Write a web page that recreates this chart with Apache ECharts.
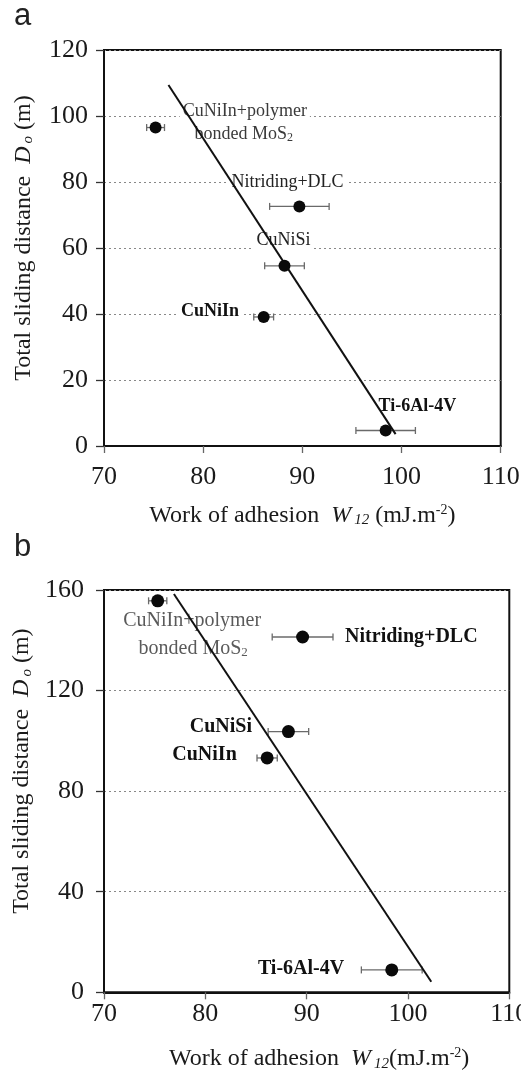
<!DOCTYPE html>
<html><head><meta charset="utf-8">
<script src="https://cdn.jsdelivr.net/npm/echarts@6/dist/echarts.min.js"></script>
<style>html,body{margin:0;padding:0;background:#fff}#c{width:521px;height:1074px}</style>
</head><body><div id="c"></div>
<script>
// ---------- data ----------
const materials = ['CuNiIn+polymer bonded MoS2', 'Nitriding+DLC', 'CuNiSi', 'CuNiIn', 'Ti-6Al-4V'];
// panel a
const workA = [75.2, 89.7, 88.2, 86.1, 98.4];
const errA  = [0.9, 3.0, 2.0, 1.0, 3.0];
const distA = [96.5, 72.6, 54.6, 39.1, 4.7];
const fitAx = [76.5, 99.4];
const fitAy = [109.4, 3.6];
// panel b
const workB = [75.3, 89.6, 88.2, 86.1, 98.4];
const errB  = [0.9, 3.0, 2.0, 1.0, 3.0];
const distB = [155.7, 141.3, 103.7, 93.2, 8.9];
const fitBx = [76.9, 102.3];
const fitBy = [158.4, 4.2];
// axis ticks
const xTicks = [70, 80, 90, 100, 110];
const yTicksA = [0, 20, 40, 60, 80, 100, 120];
const yTicksB = [0, 40, 80, 120, 160];
// annotation texts and anchors (data coordinates)
const annTextA = ['CuNiIn+polymer', 'bonded MoS{sub|2}', 'Nitriding+DLC', 'CuNiSi', 'CuNiIn', 'Ti-6Al-4V'];
const annXA = [84.2, 84.1, 88.5, 88.1, 80.7, 101.6];
const annYA = [101.5, 94.5, 80.0, 62.2, 40.8, 11.9];
const annTextB = ['CuNiIn+polymer', 'bonded MoS{sub|2}', 'Nitriding+DLC', 'CuNiSi', 'CuNiIn', 'Ti-6Al-4V'];
const annXB = [78.7, 78.8, 93.5, 84.9, 83.4, 94.0];
const annYB = [147.9, 136.6, 141.3, 105.5, 94.3, 9.5];

// ---------- styles ----------
const SERIF = '"Liberation Serif", "Times New Roman", serif';
const annStyleA = [
  {align:'center', color:'#3a3a3a', fontWeight:'normal', bg:true},
  {align:'center', color:'#3a3a3a', fontWeight:'normal', bg:false},
  {align:'center', color:'#222', fontWeight:'normal', bg:true},
  {align:'center', color:'#222', fontWeight:'normal', bg:true},
  {align:'center', color:'#111', fontWeight:'bold', bg:true},
  {align:'center', color:'#111', fontWeight:'bold', bg:false}
];
const annStyleB = [
  {align:'center', color:'#5a5a5a', fontWeight:'normal'},
  {align:'center', color:'#5a5a5a', fontWeight:'normal'},
  {align:'left', color:'#111', fontWeight:'bold'},
  {align:'right', color:'#111', fontWeight:'bold'},
  {align:'right', color:'#111', fontWeight:'bold'},
  {align:'right', color:'#111', fontWeight:'bold'}
];

const richCommon = {
  it: {fontFamily: SERIF, fontStyle: 'italic', fontSize: 24, color: '#1a1a1a'},
  itsub: {fontFamily: SERIF, fontStyle: 'italic', fontSize: 15, color: '#1a1a1a', padding: [10, 0, 0, 3]},
  sub: {fontFamily: SERIF, fontSize: 15, color: '#1a1a1a', padding: [10, 0, 0, 0]},
  sup: {fontFamily: SERIF, fontSize: 14, color: '#1a1a1a', padding: [0, 0, 10, 0]}
};

function errData(w, d, e) { return w.map((x, i) => [x, d[i], e[i]]); }
function errRender(params, api) {
  const y = api.value(1), x = api.value(0), e = api.value(2);
  const lo = api.coord([x - e, y]);
  const hi = api.coord([x + e, y]);
  const st = {stroke: '#6a6a6a', lineWidth: 1.3};
  return {type: 'group', children: [
    {type: 'line', shape: {x1: lo[0], y1: lo[1], x2: hi[0], y2: hi[1]}, style: st},
    {type: 'line', shape: {x1: lo[0], y1: lo[1] - 3.5, x2: lo[0], y2: lo[1] + 3.5}, style: st},
    {type: 'line', shape: {x1: hi[0], y1: hi[1] - 3.5, x2: hi[0], y2: hi[1] + 3.5}, style: st}
  ]};
}
function annSeries(idx, texts, xs, ys, styles, fontSize, withBg) {
  return {
    type: 'scatter', xAxisIndex: idx, yAxisIndex: idx, z: 1, silent: true,
    symbolSize: 0, itemStyle: {opacity: 1},
    data: texts.map((t, i) => ({
      value: [xs[i], ys[i]],
      label: {
        show: true, position: 'inside', formatter: t, opacity: 1,
        align: styles[i].align, verticalAlign: 'middle',
        color: styles[i].color, fontWeight: styles[i].fontWeight,
        fontFamily: SERIF, fontSize: fontSize,
        backgroundColor: (withBg && styles[i].bg) ? '#fff' : 'transparent',
        padding: [0, 3],
        rich: {sub: {fontFamily: SERIF, fontSize: Math.round(fontSize * 0.65), color: styles[i].color, padding: [8, 0, 0, 0]}}
      }
    }))
  };
}
function yAxisCfg(idx, min, max, interval, gap, shift, labelMargin) {
  return {
    type: 'value', gridIndex: idx, min: min, max: max, interval: interval,
    name: 'Total sliding distance  {it|D}{itsub|o} (m)',
    nameLocation: 'middle', nameRotate: 90, nameGap: gap,
    nameTextStyle: {fontFamily: SERIF, fontSize: 24, color: '#1a1a1a', padding: [0, 0, 0, shift], rich: richCommon},
    axisLine: {show: true, lineStyle: {color: '#111', width: 2}},
    axisTick: {show: true, length: 8, lineStyle: {color: '#333', width: 1.3}},
    axisLabel: {fontFamily: SERIF, fontSize: 26, color: '#1a1a1a', margin: labelMargin},
    splitLine: {show: true, lineStyle: {color: '#888', type: [2, 3], width: 1.2}}
  };
}
function xAxisCfg(idx, name, gap, labelMargin, shift) {
  return {
    type: 'value', gridIndex: idx, min: 70, max: 110, interval: 10,
    name: name, nameLocation: 'middle', nameGap: gap,
    nameTextStyle: {fontFamily: SERIF, fontSize: 24, color: '#1a1a1a', padding: [0, 0, 0, shift], rich: richCommon},
    axisLine: {show: true, lineStyle: {color: '#111', width: 2}},
    axisTick: {show: true, length: 7, lineStyle: {color: '#666', width: 1.3}},
    axisLabel: {fontFamily: SERIF, fontSize: 26, color: '#1a1a1a', margin: labelMargin},
    splitLine: {show: false}
  };
}

const chart = echarts.init(document.getElementById('c'), null, {renderer: 'canvas'});
chart.setOption({
  backgroundColor: '#fff',
  animation: false,
  graphic: [
    {type: 'text', left: 14, top: 1, style: {text: 'a', font: '31px "Liberation Sans", Arial, sans-serif', fill: '#222'}},
    {type: 'text', left: 14, top: 532, style: {text: 'b', font: '31px "Liberation Sans", Arial, sans-serif', fill: '#222'}}
  ],
  grid: [
    {left: 104, top: 50, right: 20.3, bottom: 628, outerBoundsMode: 'none', containLabel: false, show: true, borderColor: '#111', borderWidth: 2, backgroundColor: 'transparent'},
    {left: 104, top: 590, right: 11.7, bottom: 81.7, outerBoundsMode: 'none', containLabel: false, show: true, borderColor: '#111', borderWidth: 2, backgroundColor: 'transparent'}
  ],
  xAxis: [
    xAxisCfg(0, 'Work of adhesion  {it|W}{itsub|12} (mJ.m{sup|-2})', 57, 18, 0),
    xAxisCfg(1, 'Work of adhesion  {it|W}{itsub|12}(mJ.m{sup|-2})', 54, 9, 25)
  ],
  yAxis: [
    yAxisCfg(0, 0, 120, 20, 68, 20, 16),
    yAxisCfg(1, 0, 160, 40, 68, 40, 20)
  ],
  series: [
    // panel a
    annSeries(0, annTextA, annXA, annYA, annStyleA, 18, true),
    {type: 'custom', xAxisIndex: 0, yAxisIndex: 0, z: 2, renderItem: errRender, data: errData(workA, distA, errA)},
    {type: 'line', xAxisIndex: 0, yAxisIndex: 0, z: 3, symbol: 'none', lineStyle: {color: '#111', width: 2},
      data: fitAx.map((x, i) => [x, fitAy[i]])},
    {type: 'scatter', xAxisIndex: 0, yAxisIndex: 0, z: 4, symbol: 'circle', symbolSize: 12,
      itemStyle: {color: '#0a0a0a', opacity: 1}, data: workA.map((x, i) => [x, distA[i]])},
    // panel b
    annSeries(1, annTextB, annXB, annYB, annStyleB, 20, false),
    {type: 'custom', xAxisIndex: 1, yAxisIndex: 1, z: 2, renderItem: errRender, data: errData(workB, distB, errB)},
    {type: 'line', xAxisIndex: 1, yAxisIndex: 1, z: 3, symbol: 'none', lineStyle: {color: '#111', width: 2},
      data: fitBx.map((x, i) => [x, fitBy[i]])},
    {type: 'scatter', xAxisIndex: 1, yAxisIndex: 1, z: 4, symbol: 'circle', symbolSize: 13,
      itemStyle: {color: '#0a0a0a', opacity: 1}, data: workB.map((x, i) => [x, distB[i]])}
  ]
});
</script></body></html>
